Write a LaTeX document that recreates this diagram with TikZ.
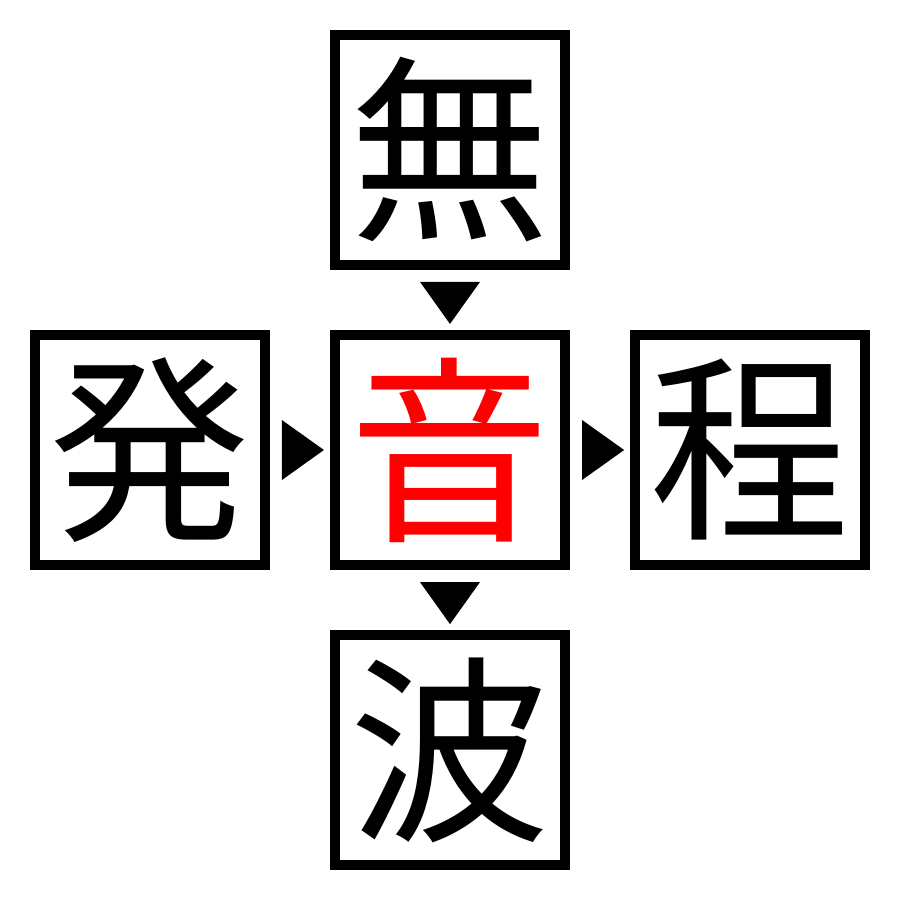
\documentclass[tikz,border=0pt]{standalone}
\usepackage{fontspec}
\newfontfamily\cjk{Noto Sans CJK JP}
\usetikzlibrary{positioning,calc}

\begin{document}
\begin{tikzpicture}[
  x=0.01cm, y=-0.01cm,
  kanji/.style={draw=black, line width=0.1cm, minimum size=2.3cm, inner sep=0pt,
    font=\cjk\fontsize{57}{57}\selectfont}
]
\useasboundingbox (0,0) rectangle (900,900);

% centre box and its four neighbours:
\node[kanji, text=red] (on) at (450,450) {音};
\node[kanji, above=0.6cm of on] (mu) {無};
\node[kanji, left=0.6cm of on] (hatsu) {発};
\node[kanji, right=0.6cm of on] (tei) {程};
\node[kanji, below=0.6cm of on] (ha) {波};

% triangles between the boxes
\fill ($(mu.south)+(-30,12)$) -- ++(60,0) -- ($(on.north)+(0,-6)$) -- cycle;
\fill ($(on.south)+(-30,12)$) -- ++(60,0) -- ($(ha.north)+(0,-6)$) -- cycle;
\fill ($(hatsu.east)+(12,-30)$) -- ++(0,60) -- ($(on.west)+(-6,0)$) -- cycle;
\fill ($(on.east)+(12,-30)$) -- ++(0,60) -- ($(tei.west)+(-6,0)$) -- cycle;

\end{tikzpicture}
\end{document}
